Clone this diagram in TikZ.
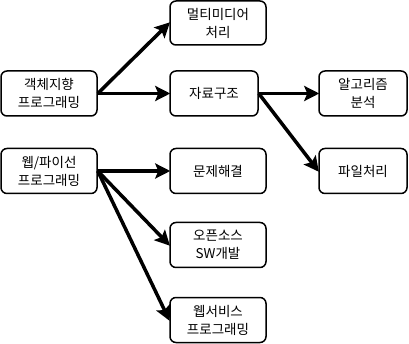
\documentclass[tikz,border=0pt]{standalone}
\usepackage{fontspec}
\setmainfont{Noto Sans CJK KR}
\usetikzlibrary{arrows.meta}
\begin{document}
\begin{tikzpicture}[x=1pt,y=-1pt,
  box/.style={draw,line width=1.5pt,rounded corners=6pt,inner sep=0pt,align=center,
    font=\fontsize{13.5}{18}\selectfont},
  conn/.style={line width=3.5pt,-{Stealth[length=15pt,width=15pt,inset=3pt]},shorten >=-1pt}]
\useasboundingbox (0,0) rectangle (409,344);
\node[box,minimum width=96pt,minimum height=45pt] (oop) at (49,93.5) {객체지향\\프로그래밍};
\node[box,minimum width=96pt,minimum height=45pt] (web) at (49,171) {웹/파이선\\프로그래밍};
\node[box,minimum width=96pt,minimum height=44pt] (mm) at (218,23) {멀티미디어\\처리};
\node[box,minimum width=88pt,minimum height=45pt] (ds) at (214,93.5) {자료구조};
\node[box,minimum width=88pt,minimum height=45pt] (alg) at (363,93.5) {알고리즘\\분석};
\node[box,minimum width=96pt,minimum height=45pt] (ps) at (218,171) {문제해결};
\node[box,minimum width=88pt,minimum height=45pt] (fp) at (363,171) {파일처리};
\node[box,minimum width=96pt,minimum height=45pt] (os) at (218,245) {오픈소스\\SW개발};
\node[box,minimum width=96pt,minimum height=45pt] (ws) at (218,320) {웹서비스\\프로그래밍};
\draw[conn] (oop.east) -- (mm.west);
\draw[conn] (oop.east) -- (ds.west);
\draw[conn] (ds.east) -- (alg.west);
\draw[conn] (ds.east) -- (fp.west);
\draw[conn] (web.east) -- (ps.west);
\draw[conn] (web.east) -- (os.west);
\draw[conn] (web.east) -- (ws.west);
\end{tikzpicture}
\end{document}
